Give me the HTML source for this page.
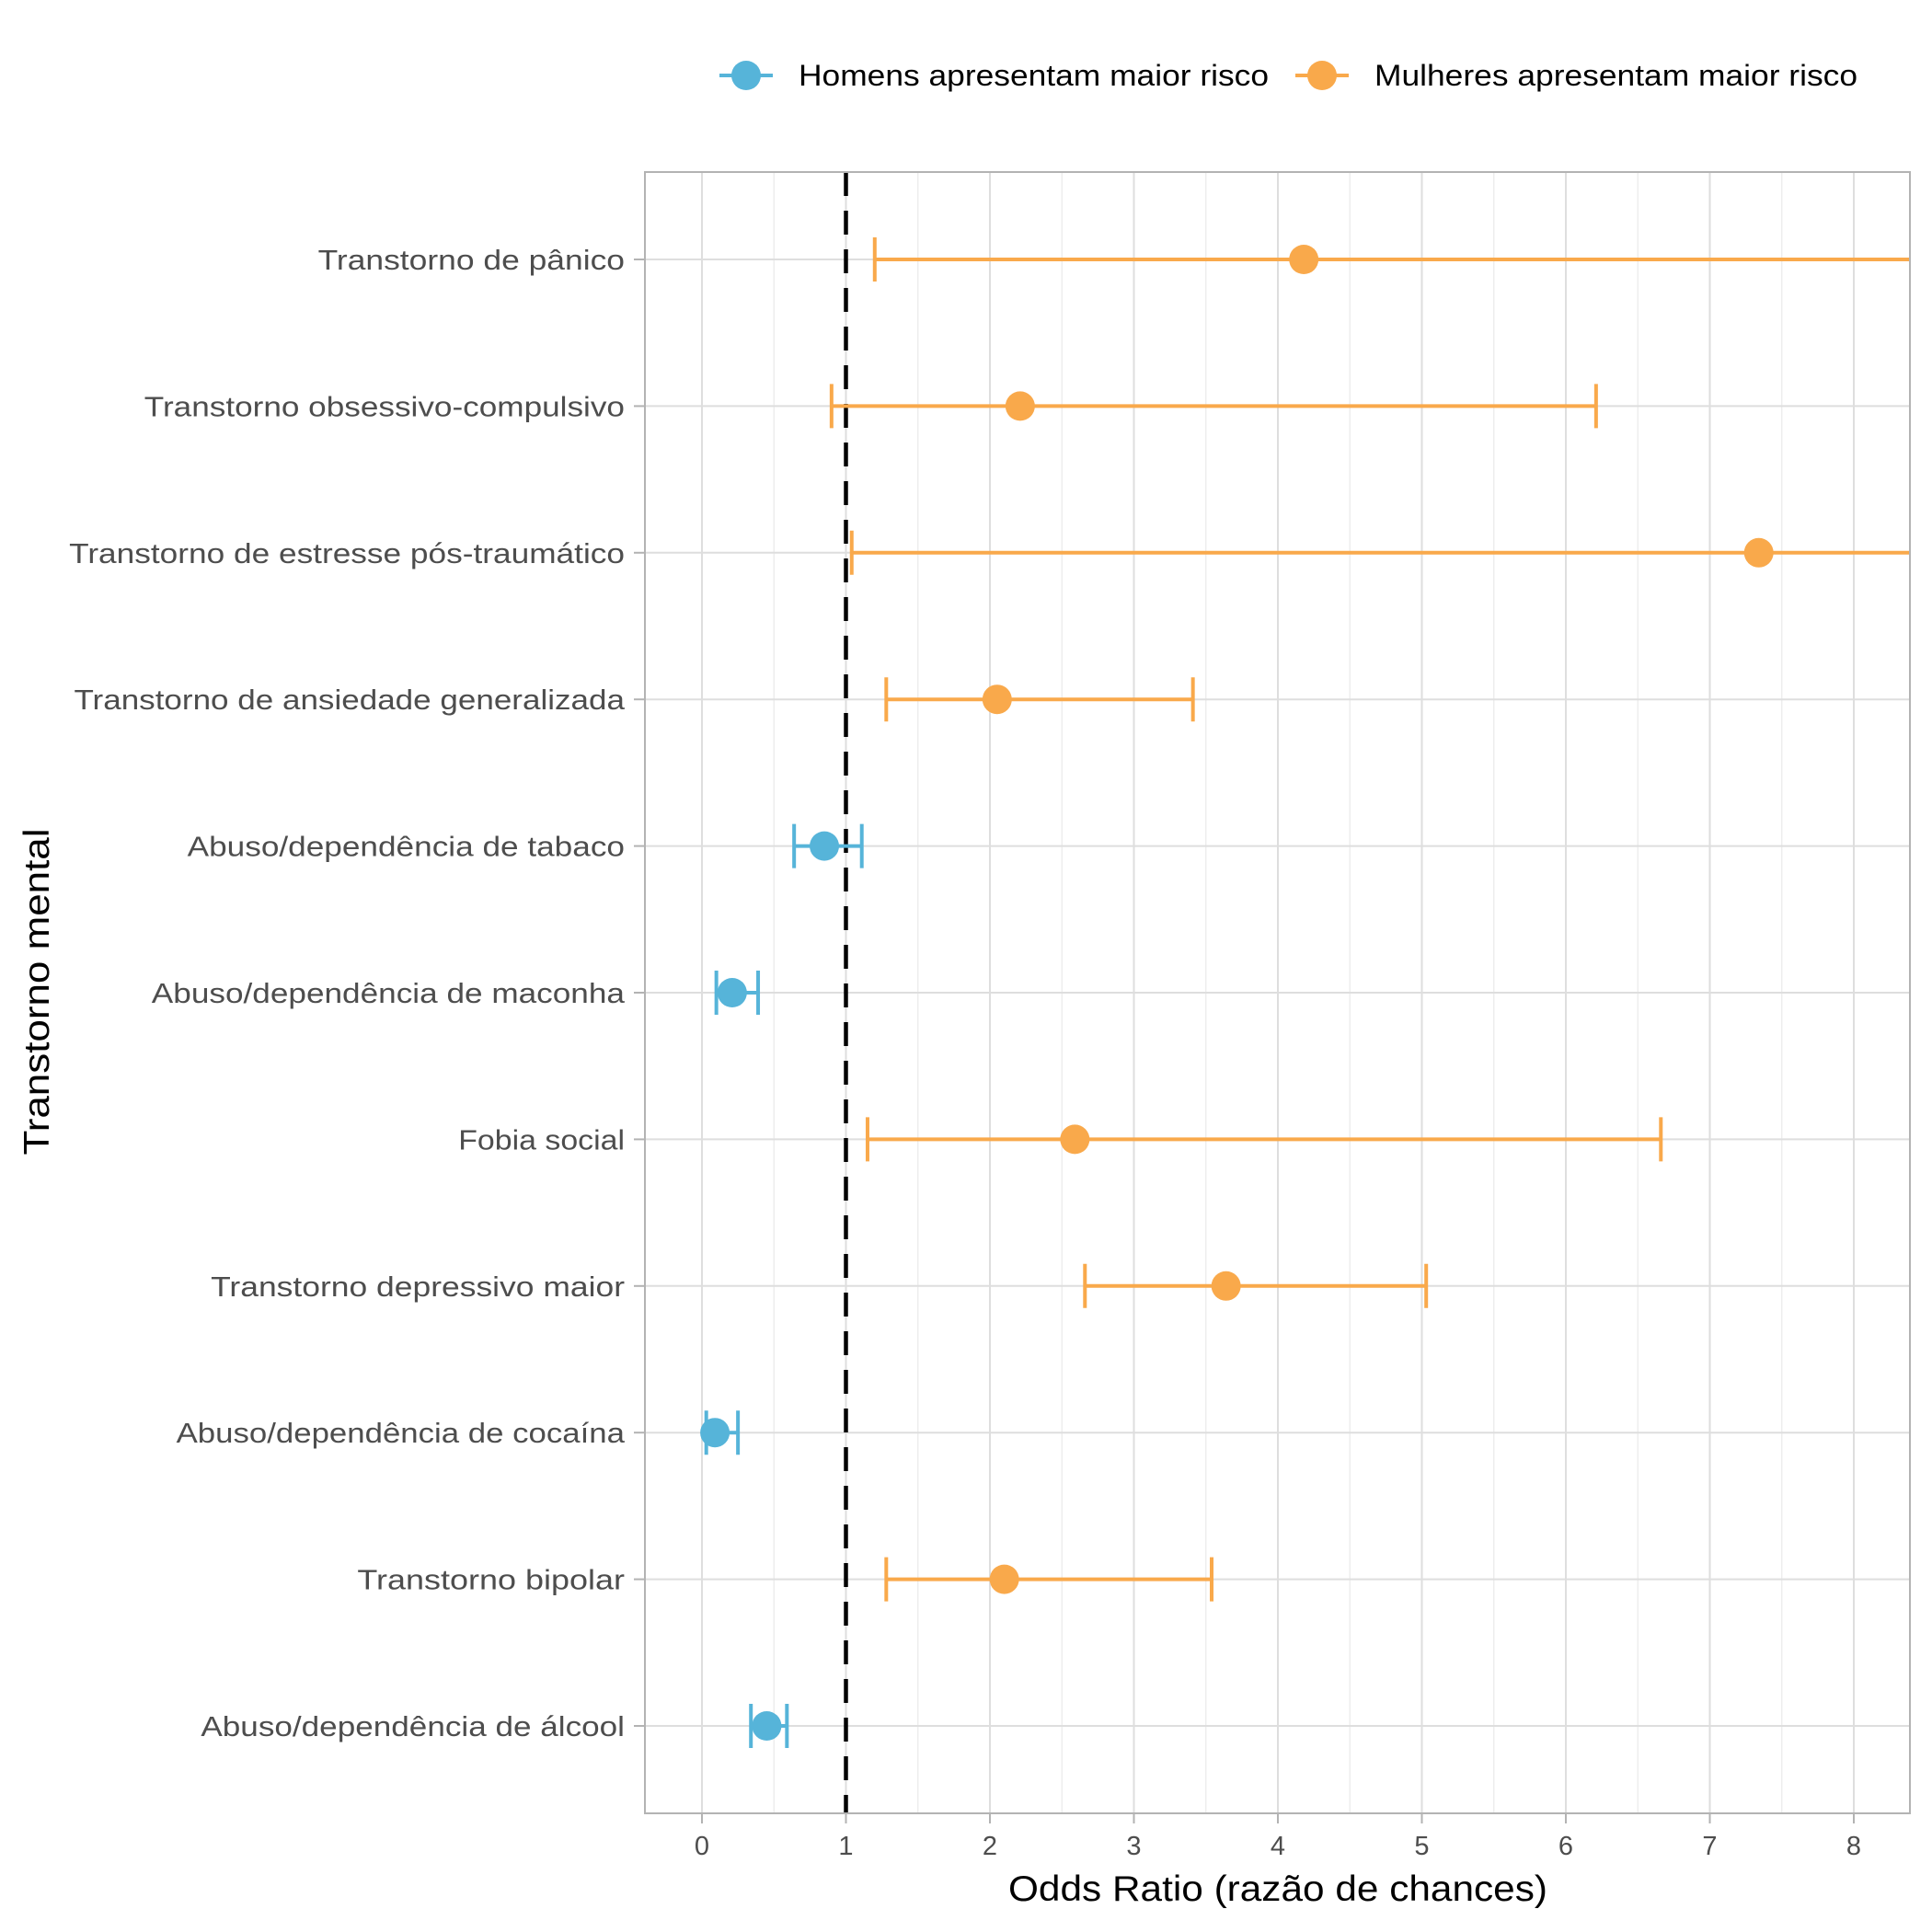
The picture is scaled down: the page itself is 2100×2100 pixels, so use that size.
<!DOCTYPE html>
<html><head><meta charset="utf-8"><style>
html,body{margin:0;padding:0;background:#fff;}
svg{display:block;font-family:"Liberation Sans","DejaVu Sans",sans-serif;}
</style></head><body>
<svg id="chart" width="2100" height="2100" viewBox="0 0 2100 2100" xmlns="http://www.w3.org/2000/svg">
<rect width="2100" height="2100" fill="#fff"/>
<g id="grid"></g>
<g id="marks"></g>
<rect x="701" y="187" width="1375" height="1784" fill="none" stroke="#b3b3b3" stroke-width="2"/>
<g id="axes"></g>
<text x="1389" y="2066" font-size="39" text-anchor="middle" fill="#000" textLength="586" lengthAdjust="spacingAndGlyphs">Odds Ratio (razão de chances)</text>
<text transform="translate(53,1078) rotate(-90)" font-size="39" text-anchor="middle" fill="#000" textLength="355" lengthAdjust="spacingAndGlyphs">Transtorno mental</text>
<g>
 <g>
  <line x1="782" y1="82" x2="840" y2="82" stroke="#56B4D9" stroke-width="4"/>
  <circle cx="811" cy="82" r="16" fill="#56B4D9"/>
  <text x="868" y="93" font-size="32" fill="#000" textLength="511" lengthAdjust="spacingAndGlyphs">Homens apresentam maior risco</text>
 </g>
 <g>
  <line x1="1408" y1="82" x2="1466" y2="82" stroke="#F9A94B" stroke-width="4"/>
  <circle cx="1437" cy="82" r="16" fill="#F9A94B"/>
  <text x="1494" y="93" font-size="32" fill="#000" textLength="525" lengthAdjust="spacingAndGlyphs">Mulheres apresentam maior risco</text>
 </g>
</g>
</svg>
<script>
const categories = ["Transtorno de pânico","Transtorno obsessivo-compulsivo","Transtorno de estresse pós-traumático","Transtorno de ansiedade generalizada","Abuso/dependência de tabaco","Abuso/dependência de maconha","Fobia social","Transtorno depressivo maior","Abuso/dependência de cocaína","Transtorno bipolar","Abuso/dependência de álcool"];
const oddsRatio = [4.18, 2.21, 7.34, 2.05, 0.85, 0.21, 2.59, 3.64, 0.09, 2.10, 0.45];
const ciLower = [1.20, 0.90, 1.04, 1.28, 0.64, 0.10, 1.15, 2.66, 0.03, 1.28, 0.34];
const ciUpper = [12, 6.21, 14, 3.41, 1.11, 0.39, 6.66, 5.03, 0.25, 3.54, 0.59];
const group = ["M","M","M","M","H","H","M","M","H","M","H"];
const xTicks = [0,1,2,3,4,5,6,7,8];
const refValue = 1;
const labelStart = [258,117,56,60,152,123,372,171,143,290,163];

const NS="http://www.w3.org/2000/svg";
const L=701,R=2076,T=187,B=1971;
const x0=763, unit=156.5;
function xs(v){return x0+v*unit;}
function ys(i){return 282+i*159.4;}
function cx(v){return Math.max(L,Math.min(R,xs(v)));}
function mk(tag,attrs,parent){const e=document.createElementNS(NS,tag);for(const k in attrs)e.setAttribute(k,attrs[k]);parent.appendChild(e);return e;}
const grid=document.getElementById('grid'),marks=document.getElementById('marks'),axes=document.getElementById('axes');
const colors={H:"#56B4D9",M:"#F9A94B"};

for(let v=-0.5; v<=8.5; v+=1){ if(xs(v)>L && xs(v)<R){
 const g=mk('line',{x1:xs(v),x2:xs(v),y1:T,y2:B,stroke:'#ebebeb','stroke-width':1.3},grid);
 
 
}}
xTicks.forEach(v=>{
 const g=mk('line',{x1:xs(v),x2:xs(v),y1:T,y2:B,stroke:'#dedede','stroke-width':2},grid);
 
 
 const t=mk('line',{x1:xs(v),x2:xs(v),y1:B,y2:B+11,stroke:'#b3b3b3','stroke-width':2},axes);
 
 
 const l=mk('text',{x:xs(v),y:B+45,'font-size':29,'text-anchor':'middle',fill:'#4d4d4d'},axes);
 l.textContent=v;
 
 
});
categories.forEach((c,i)=>{
 const g=mk('line',{x1:L,x2:R,y1:ys(i),y2:ys(i),stroke:'#dedede','stroke-width':2},grid);
 
 
 const t=mk('line',{x1:689,x2:L,y1:ys(i),y2:ys(i),stroke:'#b3b3b3','stroke-width':2},axes);
 
 
 const w=(507-labelStart[i])*1.339;
 const l=mk('text',{x:679,y:ys(i)+11,'font-size':31,'text-anchor':'end',fill:'#4d4d4d',textLength:w,lengthAdjust:'spacingAndGlyphs'},axes);
 l.textContent=c;
 
 
});
const ref=mk('line',{x1:xs(refValue),x2:xs(refValue),y1:T,y2:B,stroke:'#000','stroke-width':4.5,'stroke-dasharray':'26 16'},marks);



categories.forEach((c,i)=>{
 const col=colors[group[i]], y=ys(i);
 const g=mk('g',{},marks);
 
 
 mk('line',{x1:cx(ciLower[i]),x2:cx(ciUpper[i]),y1:y,y2:y,stroke:col,'stroke-width':4},g);
 [ciLower[i],ciUpper[i]].forEach(v=>{ if(xs(v)>=L && xs(v)<=R) mk('line',{x1:xs(v),x2:xs(v),y1:y-24,y2:y+24,stroke:col,'stroke-width':4},g);});
 const p=mk('circle',{cx:xs(oddsRatio[i]),cy:y,r:16,fill:col},g);
 
 
});
</script>
</body></html>
